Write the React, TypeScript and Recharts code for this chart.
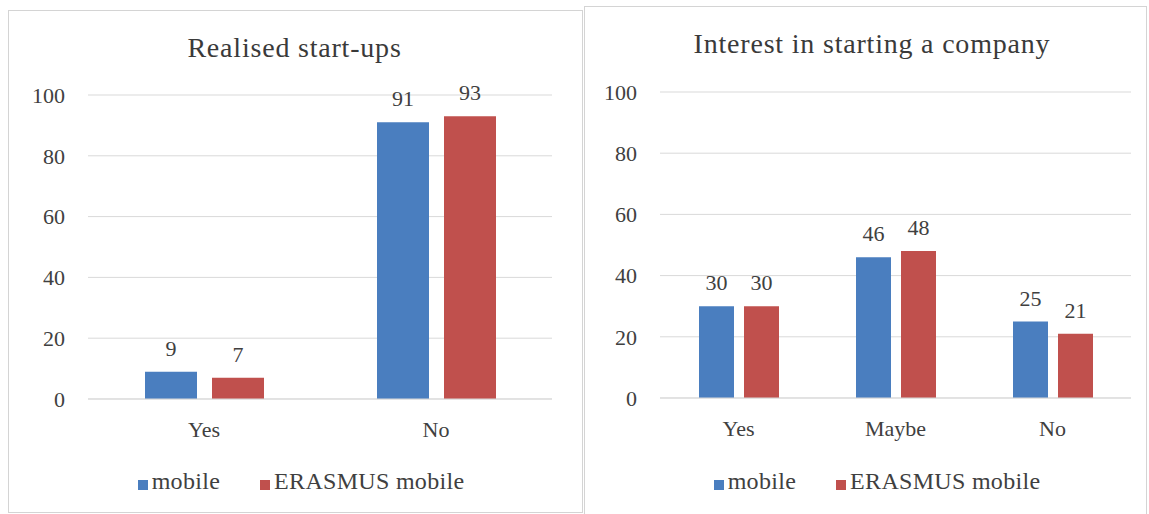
import React from 'react';
import { BarChart, Bar, XAxis, YAxis, CartesianGrid, Legend, LabelList } from 'recharts';

const startupCategories = ['Yes', 'No'];
const startupMobile = [9, 91];
const startupErasmus = [7, 93];

const interestCategories = ['Yes', 'Maybe', 'No'];
const interestMobile = [30, 46, 25];
const interestErasmus = [30, 48, 21];

const yTicks = [0, 20, 40, 60, 80, 100];
const seriesNames = ['mobile', 'ERASMUS mobile'];
const leftTitle = 'Realised start-ups';
const rightTitle = 'Interest in starting a company';

const BLUE = '#4a7ebf';
const RED = '#c0504d';
const TEXT = '#404040';
const GRID = '#d9d9d9';
const FONT = "'Liberation Serif', 'DejaVu Serif', serif";

const build = (cats: string[], a: number[], b: number[]) =>
  cats.map((c, i) => ({ cat: c, mobile: a[i], erasmus: b[i] }));

const leftData = build(startupCategories, startupMobile, startupErasmus);
const rightData = build(interestCategories, interestMobile, interestErasmus);

const tickStyle = { fill: TEXT, fontSize: 22, fontFamily: FONT, style: { fontFamily: FONT } };
const labelStyle = { fill: TEXT, fontSize: 22, fontFamily: FONT };

const legendFormatter = (value: string, _entry: any, index: number) => (
  <span
    style={{
      color: TEXT,
      fontSize: 24,
      fontFamily: FONT,
      letterSpacing: 0.3,
      marginRight: index === 0 ? 30 : 0,
    }}
  >
    {value}
  </span>
);

const legendOrder = (item: any) => (item && item.dataKey === 'mobile' ? 0 : 1);

type PanelProps = {
  data: any[];
  width: number;
  height: number;
  margin: { top: number; right: number; bottom: number; left: number };
  yWidth: number;
  barSize: number;
  barGap: number;
  legendLeft: number;
  legendWidth: number;
  legendTop: number;
};

const Panel = (p: PanelProps) => (
  <BarChart
    width={p.width}
    height={p.height}
    data={p.data}
    margin={p.margin}
    barGap={p.barGap}
    barSize={p.barSize}
    style={{ fontFamily: FONT }}
  >
    <CartesianGrid vertical={false} stroke={GRID} strokeWidth={1} />
    <XAxis
      dataKey="cat"
      height={40}
      stroke={GRID}
      tickLine={false}
      tickSize={0}
      tickMargin={22}
      tick={tickStyle}
      interval={0}
    />
    <YAxis
      width={p.yWidth}
      domain={[0, 100]}
      ticks={yTicks}
      axisLine={false}
      tickLine={false}
      tickSize={0}
      tickMargin={23}
      tick={tickStyle}
    />
    <Legend
      verticalAlign="middle"
      align="center"
      layout="horizontal"
      iconType="square"
      iconSize={10}
      itemSorter={legendOrder}
      formatter={legendFormatter}
      wrapperStyle={{ left: p.legendLeft, top: p.legendTop, width: p.legendWidth, fontFamily: FONT }}
    />
    <Bar dataKey="mobile" name={seriesNames[0]} fill={BLUE} isAnimationActive={false}>
      <LabelList dataKey="mobile" position="top" offset={16} style={labelStyle} />
    </Bar>
    <Bar dataKey="erasmus" name={seriesNames[1]} fill={RED} isAnimationActive={false}>
      <LabelList dataKey="erasmus" position="top" offset={16} style={labelStyle} />
    </Bar>
  </BarChart>
);

const titleStyle = (center: number, top: number): React.CSSProperties => ({
  position: 'absolute',
  left: center - 300,
  width: 600,
  top,
  textAlign: 'center',
  fontFamily: FONT,
  fontSize: 28,
  letterSpacing: 0.8,
  lineHeight: '28px',
  color: '#3a3a3a',
  whiteSpace: 'nowrap',
});

export default function App() {
  return (
    <div style={{ position: 'absolute', left: 0, top: 0, width: 1149, height: 514, background: '#fff', overflow: 'hidden', fontFamily: FONT }}>
      <div style={{ position: 'absolute', left: 8, top: 10, width: 573, height: 501, border: '1px solid #d4d4d4' }} />
      <div style={{ position: 'absolute', left: 584, top: 6, width: 561, height: 507, border: '1px solid #d4d4d4' }} />

      <div style={{ position: 'absolute', left: 0, top: 0 }}>
        <Panel
          data={leftData}
          width={574}
          height={514}
          margin={{ top: 95, right: 22, bottom: 75, left: 0 }}
          yWidth={88}
          barSize={52}
          barGap={15}
          legendLeft={36}
          legendWidth={540}
          legendTop={468}
        />
      </div>
      <div style={{ position: 'absolute', left: 584, top: 0 }}>
        <Panel
          data={rightData}
          width={565}
          height={514}
          margin={{ top: 92, right: 18, bottom: 76, left: 0 }}
          yWidth={76}
          barSize={35}
          barGap={10}
          legendLeft={28}
          legendWidth={540}
          legendTop={468}
        />
      </div>

      <div style={titleStyle(294.5, 34)}>{leftTitle}</div>
      <div style={titleStyle(872, 30)}>{rightTitle}</div>
    </div>
  );
}
